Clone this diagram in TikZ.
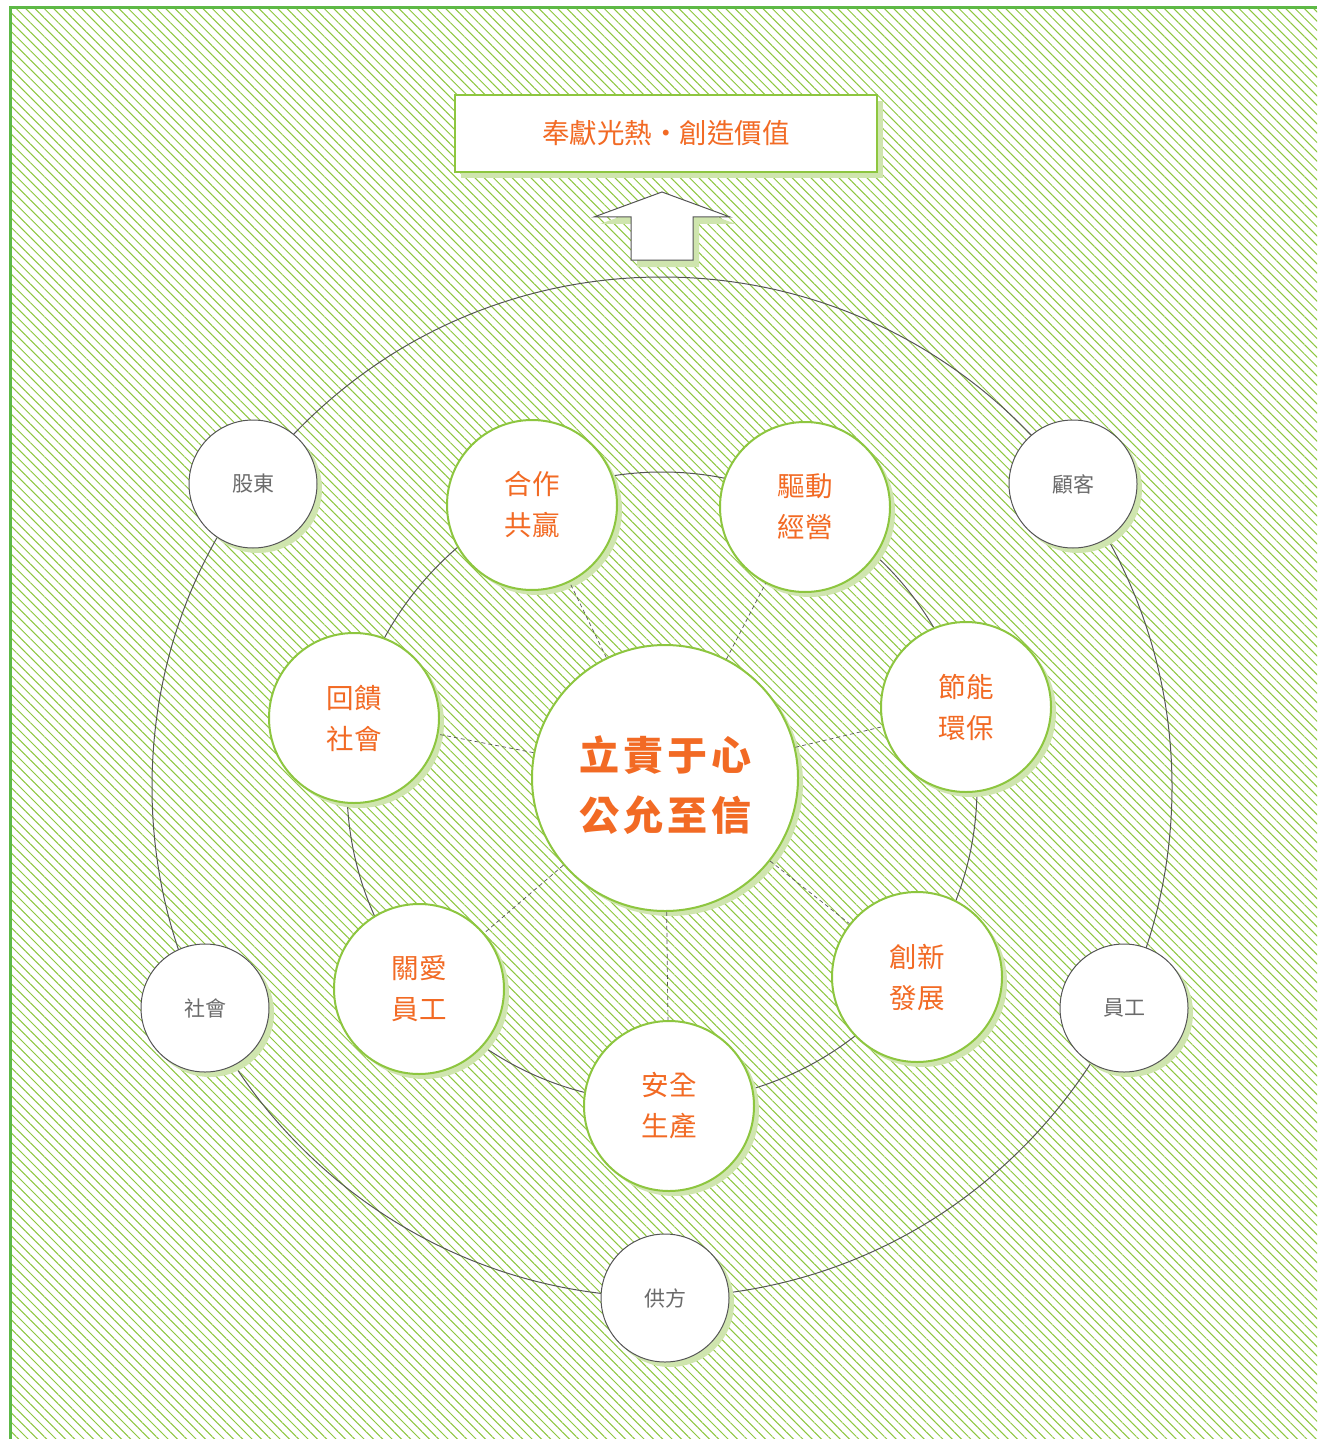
\documentclass[tikz,border=0pt]{standalone}
\usepackage{fontspec}
\newfontfamily\cjk{Noto Sans CJK TC}
\newfontfamily\brush{Noto Sans CJK TC}[LetterSpace=10]
\usetikzlibrary{shadows,patterns.meta,positioning}

\definecolor{leaf}{HTML}{8DC63F}
\definecolor{frame}{HTML}{5DB946}
\definecolor{shade}{HTML}{CFE5AE}
\definecolor{ink}{HTML}{F26A24}
\definecolor{wire}{HTML}{555555}
\definecolor{gtext}{HTML}{6B6B6B}

\tikzset{
  shadowed/.style={drop shadow={shadow xshift=5pt,shadow yshift=-5pt,fill=shade,opacity=1}},
  value/.style={circle,draw=leaf,line width=2pt,fill=white,minimum size=170pt,inner sep=0pt,
    shadowed,text=ink,align=center,font=\cjk\fontsize{27.5}{41}\selectfont},
  party/.style={circle,draw=wire,line width=1pt,fill=white,minimum size=128pt,inner sep=0pt,
    shadowed,text=gtext,font=\cjk\fontsize{21}{24}\selectfont},
  hubnode/.style={circle,draw=leaf,line width=2pt,fill=white,minimum size=266pt,inner sep=0pt,
    shadowed,text=ink,align=center,font=\brush\bfseries\fontsize{40}{60}\selectfont},
  goalbox/.style={draw=leaf,line width=2.5pt,fill=white,minimum width=422pt,minimum height=77pt,
    drop shadow={shadow xshift=6pt,shadow yshift=-6pt,fill=shade,opacity=1},
    text=ink,font=\cjk\fontsize{27.5}{30}\selectfont},
  ring/.style={draw=wire,line width=1pt},
  spoke/.style={draw=wire,line width=0.7pt,dash pattern=on 4pt off 3pt}
}

\begin{document}
\begin{tikzpicture}[x=1pt,y=-1pt]
    \useasboundingbox (0,0) rectangle (1317,1439);
    % Background
    \fill[pattern={Lines[angle=-45,distance=6.6pt,line width=1pt]},pattern color=leaf]
        (10,8) rectangle (1317,1439);
    \draw[frame,line width=3pt] (10,1439) -- (10,8) -- (1317,8);

    % Goal and arrow
    \node[goalbox] (goal) at (666,133.5) {奉獻光熱・創造價值};
    \draw[wire,line width=1pt,fill=white,drop shadow={shadow xshift=6pt,shadow yshift=-7pt,fill=shade,opacity=1}]
        (662,192) -- (730,217) -- (693,217) -- (693,260) -- (631,260) -- (631,217) -- (594,217) -- cycle;

    % Rings
    \coordinate (mid) at (662,787);
    \draw[ring] (mid) circle (510);
    \draw[ring] (mid) circle (315);

    % Outer parties
    \node[party] (holder) at (253,484)  {股東};
    \node[party] (client) at (1073,484) {顧客};
    \node[party] (society) at (205,1008) {社會};
    \node[party] (staff) at (1124,1008) {員工};
    \node[party] (supply) at (665,1298) {供方};

    % Inner values
    \node[value] (coop)  at (532,505)  {合作\\共贏};
    \node[value] (drive) at (805,507)  {驅動\\經營};
    \node[value] (green) at (966,707)  {節能\\環保};
    \node[value] (innov) at (917,977)  {創新\\發展};
    \node[value] (safe)  at (669,1106) {安全\\生產};
    \node[value] (care)  at (419,989)  {關愛\\員工};
    \node[value] (back)  at (354,718)  {回饋\\社會};

    % Core
    \node[hubnode] (core) at (665,778) {\rule{0pt}{48pt}立責于心\\公允至信};

    % Spokes
    \foreach \v in {coop,drive,green,innov,safe,care,back} {
        \draw[spoke] (core) -- (\v);
    }
\end{tikzpicture}
\end{document}
